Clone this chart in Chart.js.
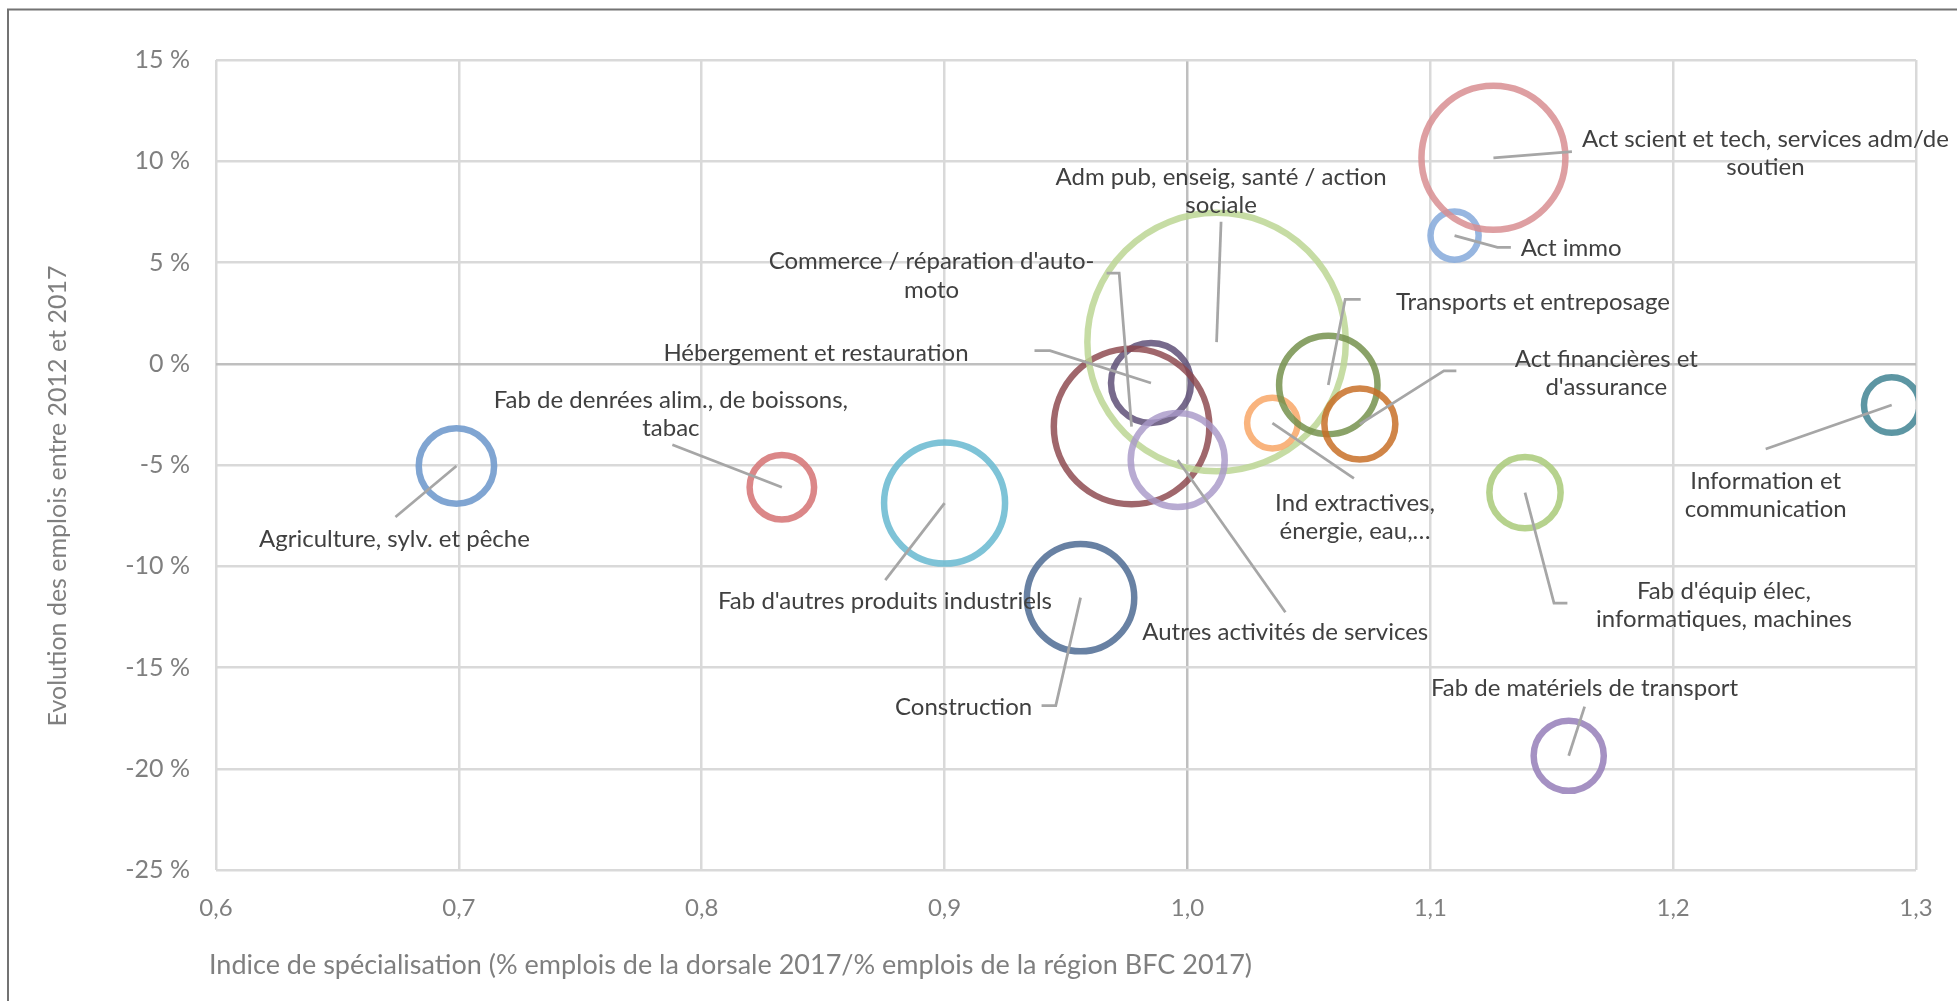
<!DOCTYPE html>
<html lang="fr">
<head>
<meta charset="utf-8">
<title>Indice de spécialisation et évolution des emplois</title>
<script src="https://cdn.jsdelivr.net/npm/chart.js@4.4.1/dist/chart.umd.min.js"></script>
<style>
    html, body { margin: 0; padding: 0; background: #ffffff; }
    #wrap { position: relative; width: 1957px; height: 1001px; }
</style>
</head>
<body>
<div id="wrap"><canvas id="bubble-chart"></canvas></div>
<script>
// Secteurs d'activité
const secteurs = [
    'Agriculture, sylv. et pêche',
    'Fab de denrées alim., de boissons, tabac',
    "Fab d'autres produits industriels",
    'Construction',
    'Hébergement et restauration',
    "Commerce / réparation d'auto-moto",
    'Adm pub, enseig, santé / action sociale',
    'Autres activités de services',
    'Ind extractives, énergie, eau,…',
    'Transports et entreposage',
    "Act financières et d'assurance",
    'Act immo',
    'Act scient et tech, services adm/de soutien',
    'Information et communication',
    "Fab d'équip élec, informatiques, machines",
    'Fab de matériels de transport',
];

// Indice de spécialisation 2017
const indiceSpecialisation = [0.699, 0.833, 0.900, 0.956, 0.985, 0.977, 1.012, 0.996, 1.035, 1.058, 1.071, 1.110, 1.126, 1.290, 1.139, 1.157];

// Evolution des emplois 2012-2017 (%)
const evolutionEmplois = [-5.05, -6.1, -6.88, -11.55, -0.95, -3.1, 1.07, -4.75, -2.93, -1.05, -2.98, 6.33, 10.17, -2.04, -6.36, -19.36];

// Poids relatif des emplois (taille des bulles)
const poidsEmplois = [14.2, 10.4, 36.6, 28.8, 16.0, 60.5, 167, 22.1, 6.4, 24.2, 12.6, 5.8, 51.8, 7.7, 12.7, 12.3];

const xTicks = [0.6, 1.3, 0.1];
const yTicks = [-25, 15, 5];

const couleurs = [
    'rgba(117, 157, 206, 0.92)',
    'rgba(214, 118, 120, 0.88)',
    'rgba(108, 187, 209, 0.88)',
    'rgba(83, 111, 150, 0.88)',
    'rgba(95, 80, 120, 0.85)',
    'rgba(139, 70, 76, 0.82)',
    'rgba(188, 214, 148, 0.85)',
    'rgba(168, 152, 200, 0.82)',
    'rgba(248, 170, 108, 0.88)',
    'rgba(118, 146, 78, 0.85)',
    'rgba(200, 112, 40, 0.85)',
    'rgba(137, 172, 220, 0.88)',
    'rgba(216, 142, 146, 0.85)',
    'rgba(71, 135, 150, 0.88)',
    'rgba(172, 204, 125, 0.88)',
    'rgba(152, 130, 187, 0.88)',
];

// Placement des étiquettes (décalages en px depuis le centre de la bulle)
const etiquettes = [
    { lines: ['Agriculture, sylv. et pêche'], t: [-62, 73], s: [-61, 51] },
    { lines: ['Fab de denrées alim., de boissons,', 'tabac'], t: [-111, -87.5], s: [-109.5, -42.5] },
    { lines: ["Fab d'autres produits industriels"], t: [-59.6, 98], s: [-59.3, 77] },
    { lines: ['Construction'], t: [-117, 110], s: [-39, 108], e: [-24.8, 108] },
    { lines: ['Hébergement et restauration'], t: [-335, -30], s: [-116.5, -32.3], e: [-101, -32.3] },
    { lines: ["Commerce / réparation d'auto-", 'moto'], t: [-200, -164.8], s: [-25, -153.5], e: [-12.4, -153.5] },
    { lines: ['Adm pub, enseig, santé / action', 'sociale'], t: [4.5, -165.3], s: [4.5, -120.3] },
    { lines: ['Autres activités de services'], t: [107.5, 172.7], s: [107.7, 152.3] },
    { lines: ['Ind extractives,', 'énergie, eau,…'], t: [82.6, 79.7], s: [81.5, 55.3] },
    { lines: ['Transports et entreposage'], t: [204.7, -82.7], s: [32.4, -85.7], e: [16.9, -85.7] },
    { lines: ['Act financières et', "d'assurance"], t: [246.5, -64.7], s: [96.5, -53.3], e: [84, -53.3] },
    { lines: ['Act immo'], t: [116.6, 12.8], s: [56.3, 11.8], e: [42.9, 11.8] },
    { lines: ['Act scient et tech, services adm/de', 'soutien'], t: [272, -18.5], s: [78.5, -6.1] },
    { lines: ['Information et', 'communication'], t: [-126, 76], s: [-126, 44] },
    { lines: ["Fab d'équip élec,", 'informatiques, machines'], t: [199, 98.7], s: [42.4, 110.6], e: [29, 110.6] },
    { lines: ['Fab de matériels de transport'], t: [15.8, -67.5], s: [15.9, -49.2] },
];

const FONT = 'Lato, "Open Sans", sans-serif';

const points = secteurs.map((nom, i) => ({
    x: indiceSpecialisation[i],
    y: evolutionEmplois[i],
    r: 10 * Math.sqrt(poidsEmplois[i]),
}));

const cadrePlugin = {
    id: 'cadre',
    beforeDraw(chart) {
        const { ctx } = chart;
        ctx.save();
        ctx.strokeStyle = '#737373';
        ctx.lineWidth = 2;
        ctx.strokeRect(8, 9.5, 2400, 2400);
        ctx.restore();
    },
};

const etiquettesPlugin = {
    id: 'etiquettes',
    afterDatasetsDraw(chart) {
        const { ctx, chartArea } = chart;
        const meta = chart.getDatasetMeta(0);
        ctx.save();

        etiquettes.forEach((lab, i) => {
            const pt = meta.data[i];
            const cx = pt.x;
            const cy = pt.y;

            ctx.strokeStyle = '#a6a6a6';
            ctx.lineWidth = 2.75;
            ctx.beginPath();
            ctx.moveTo(cx + lab.s[0], cy + lab.s[1]);
            if (lab.e) {
                ctx.lineTo(cx + lab.e[0], cy + lab.e[1]);
            }
            ctx.lineTo(cx, cy);
            ctx.stroke();

            ctx.fillStyle = '#404040';
            ctx.font = `24px ${FONT}`;
            ctx.textAlign = 'center';
            ctx.textBaseline = 'middle';
            lab.lines.forEach((line, k) => {
                ctx.fillText(line, cx + lab.t[0], cy + lab.t[1] + k * 28.3);
            });
        });

        // titres des axes
        ctx.fillStyle = '#7f7f7f';
        ctx.font = `27px ${FONT}`;
        ctx.textBaseline = 'middle';
        ctx.textAlign = 'left';
        ctx.fillText('Indice de spécialisation (% emplois de la dorsale 2017/% emplois de la région BFC 2017)', chartArea.left - 7, chartArea.bottom + 95);

        ctx.font = `25px ${FONT}`;
        ctx.translate(58, (chartArea.top + chartArea.bottom) / 2 + 31);
        ctx.rotate(-Math.PI / 2);
        ctx.textAlign = 'center';
        ctx.fillText('Evolution des emplois entre 2012 et 2017', 0, 0);

        ctx.restore();
    },
};

new Chart(document.getElementById('bubble-chart'), {
    type: 'bubble',
    data: {
        datasets: [
            {
                data: points,
                borderColor: couleurs,
                backgroundColor: 'rgba(0, 0, 0, 0)',
                borderWidth: 6.5,
                hoverBorderWidth: 6.5,
                hoverRadius: 0,
                clip: 0,
            },
        ],
    },
    options: {
        responsive: true,
        maintainAspectRatio: false,
        animation: false,
        events: [],
        layout: {
            autoPadding: false,
            padding: { top: 60, right: 41, left: 0, bottom: 0 },
        },
        plugins: {
            legend: { display: false },
            tooltip: { enabled: false },
        },
        scales: {
            x: {
                type: 'linear',
                min: xTicks[0],
                max: xTicks[1],
                afterFit(scale) {
                    scale.height = 131;
                },
                ticks: {
                    stepSize: xTicks[2],
                    padding: 24,
                    color: '#7f7f7f',
                    font: { family: FONT, size: 24 },
                    callback(value) {
                        return Number(value).toFixed(1).replace('.', ',');
                    },
                },
                grid: {
                    drawTicks: false,
                    lineWidth: 2.5,
                    color(context) {
                        return Math.abs(context.tick.value - 1) < 1e-9 ? '#bfbfbf' : '#d9d9d9';
                    },
                },
                border: { display: false },
            },
            y: {
                type: 'linear',
                min: yTicks[0],
                max: yTicks[1],
                afterFit(scale) {
                    scale.width = 216;
                },
                ticks: {
                    stepSize: yTicks[2],
                    padding: 26,
                    color: '#7f7f7f',
                    font: { family: FONT, size: 25 },
                    callback(value) {
                        return `${value} %`;
                    },
                },
                grid: {
                    drawTicks: false,
                    lineWidth: 2.5,
                    color(context) {
                        return Math.abs(context.tick.value) < 1e-9 ? '#bfbfbf' : '#d9d9d9';
                    },
                },
                border: { display: false },
            },
        },
    },
    plugins: [cadrePlugin, etiquettesPlugin],
});
</script>
</body>
</html>
